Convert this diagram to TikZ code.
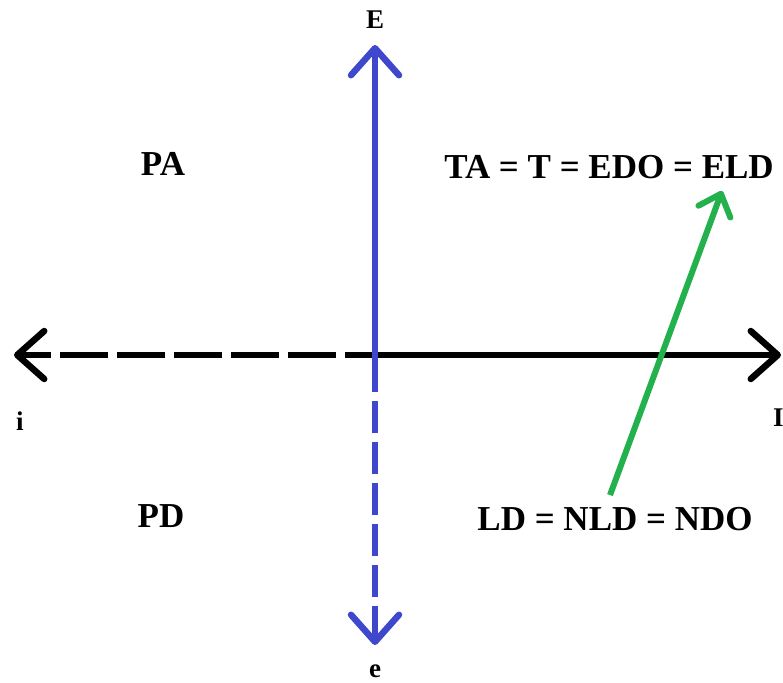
\documentclass[tikz,border=0pt]{standalone}
\usepackage{fontspec}
\setmainfont{Liberation Serif}
\usepackage{xcolor}
\usetikzlibrary{arrows.meta,positioning,calc}
\definecolor{axisink}{HTML}{000000}
\definecolor{paintblue}{HTML}{3F48CC}
\definecolor{paintgreen}{HTML}{22B14C}
\tikzset{
  biglabel/.style={font=\fontsize{35}{38}\selectfont\bfseries,inner sep=0pt},
  smalllabel/.style={font=\fontsize{27}{30}\selectfont\bfseries,inner sep=0pt},
  barb/.style={-{Straight Barb[length=27pt,width=48pt,line cap=round,line join=round]}},
  axisline/.style={draw=axisink,line width=6.5pt},
  bluearr/.style={draw=paintblue,line width=6.5pt},
  greenarr/.style={draw=paintgreen,line width=6pt,
                   -{Straight Barb[length=19pt,width=34pt,line cap=round,line join=round]}}
}

\begin{document}
\begin{tikzpicture}[x=1pt,y=-1pt]
    \useasboundingbox (0,0) rectangle (783,682);
    % axes end points
    \coordinate (left) at (14,355);
    \coordinate (right) at (781,355);
    \coordinate (mid) at (373,355);
    \coordinate (top) at (375,45);
    \coordinate (bottom) at (375,645);
    \coordinate (split) at (375,391);
    % horizontal axis
    \draw[axisline,barb,dash pattern=on 48pt off 9pt,dash phase=20pt] (mid) -- (left);
    \draw[axisline,barb] (mid) -- (right);
    % vertical axis
    \draw[bluearr,barb] (split) -- (top);
    \draw[bluearr,barb,dash pattern=on 32pt off 9pt,dash phase=-10pt] (split) -- (bottom);
    % labels
    \node[smalllabel] (E) at (375,20) {E};
    \node[smalllabel] (e) at (375,671) {e};
    \node[smalllabel] (i) at (20,421) {i};
    \node[smalllabel,anchor=west] (I) at (773,418) {I};
    \node[biglabel] (PA) at (163,164) {PA};
    \node[biglabel] (PD) at (161,516) {PD};
    \node[biglabel] (ta) at (609,167) {TA = T = EDO = ELD};
    \node[biglabel] (ld) at (615,519) {LD = NLD = NDO};
    % green arrow
    \draw[greenarr] ([xshift=-5pt,yshift=12pt]ld.north) -- ([xshift=113pt,yshift=-12pt]ta.south);
\end{tikzpicture}
\end{document}
